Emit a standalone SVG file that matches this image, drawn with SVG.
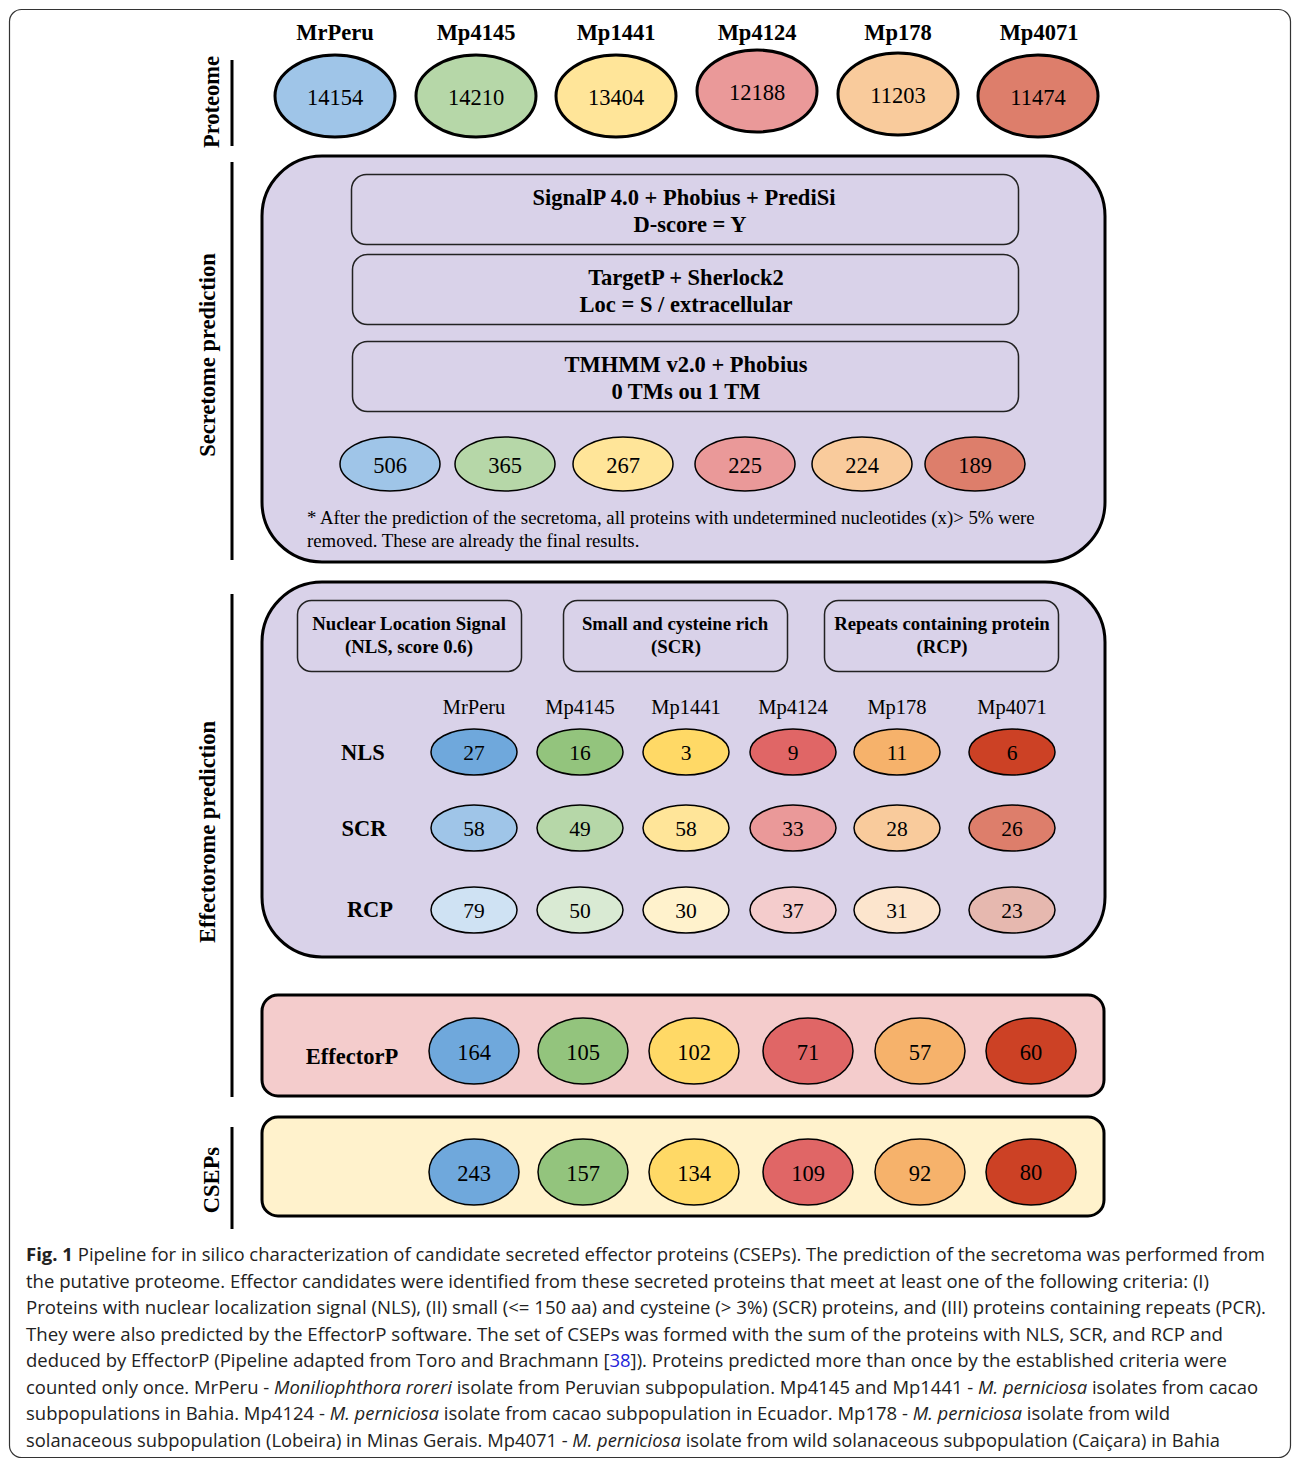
<svg xmlns="http://www.w3.org/2000/svg" width="1292" height="1460" viewBox="0 0 1292 1460">
<defs>
<style>
.serif{font-family:"Liberation Serif","Times New Roman",serif;fill:#000}
.hdr{font-size:22.5px;font-weight:bold;text-anchor:middle}
.num{font-size:22.5px;text-anchor:middle;dominant-baseline:central}
.num2{font-size:21.5px;text-anchor:middle;dominant-baseline:central}
.numc{font-size:22.5px;text-anchor:middle;dominant-baseline:central}
.boxt{font-size:22.5px;font-weight:bold;text-anchor:middle;dominant-baseline:central}
.crit{font-size:18.8px;font-weight:bold;text-anchor:middle;dominant-baseline:central}
.col{font-size:20.5px;text-anchor:middle;dominant-baseline:central}
.rowl{font-size:22.5px;font-weight:bold;text-anchor:middle;dominant-baseline:central}
.side{font-size:22.5px;font-weight:bold;text-anchor:middle;dominant-baseline:central}
.big{stroke:#000;stroke-width:3}
.thin{stroke:#000;stroke-width:1.5}
.inner{fill:none;stroke:#222;stroke-width:1.5}
.purple{fill:#d9d2e9}
.cap{font-family:"Open Sans","Noto Sans","Liberation Sans",sans-serif;font-size:18.5px;fill:#222}
.bar{stroke:#000;stroke-width:3}
</style>
</defs>
<rect x="9.5" y="9.5" width="1281" height="1448" rx="12" fill="#fff" stroke="#333" stroke-width="1.2"/>

<g id="side-labels">
<line class="bar" x1="232" y1="60" x2="232" y2="146"/>
<text class="serif side" transform="translate(211,102) rotate(-90)">Proteome</text>
<line class="bar" x1="232" y1="162" x2="232" y2="560"/>
<text class="serif side" transform="translate(207,355) rotate(-90)">Secretome prediction</text>
<line class="bar" x1="232" y1="594" x2="232" y2="1097"/>
<text class="serif side" transform="translate(207,832) rotate(-90)">Effectorome prediction</text>
<line class="bar" x1="232" y1="1127" x2="232" y2="1229"/>
<text class="serif side" transform="translate(211,1180) rotate(-90)">CSEPs</text>
</g>

<g id="proteome">
<text class="serif hdr" x="335" y="40">MrPeru</text>
<text class="serif hdr" x="476" y="40">Mp4145</text>
<text class="serif hdr" x="616" y="40">Mp1441</text>
<text class="serif hdr" x="757" y="40">Mp4124</text>
<text class="serif hdr" x="898" y="40">Mp178</text>
<text class="serif hdr" x="1039" y="40">Mp4071</text>
<g id="p-MrPeru"><ellipse class="big" cx="335" cy="96" rx="60" ry="41" fill="#9fc5e8"/><text class="serif num" x="335" y="97">14154</text></g>
<g id="p-Mp4145"><ellipse class="big" cx="476" cy="96" rx="60" ry="41" fill="#b6d7a8"/><text class="serif num" x="476" y="97">14210</text></g>
<g id="p-Mp1441"><ellipse class="big" cx="616" cy="96" rx="60" ry="41" fill="#ffe599"/><text class="serif num" x="616" y="97">13404</text></g>
<g id="p-Mp4124"><ellipse class="big" cx="757" cy="91" rx="60" ry="41" fill="#ea9999"/><text class="serif num" x="757" y="92">12188</text></g>
<g id="p-Mp178"><ellipse class="big" cx="898" cy="94" rx="60" ry="41" fill="#f9cb9c"/><text class="serif num" x="898" y="95">11203</text></g>
<g id="p-Mp4071"><ellipse class="big" cx="1038" cy="96" rx="60" ry="41" fill="#dd7e6b"/><text class="serif num" x="1038" y="97">11474</text></g>
</g>

<g id="secretome">
<rect class="big purple" x="262" y="156" width="843" height="406" rx="60"/>
<g id="s-signalp"><rect class="inner" x="351.5" y="174.5" width="667" height="70" rx="15"/>
<text class="serif boxt" x="684" y="197">SignalP 4.0 + Phobius + PrediSi</text>
<text class="serif boxt" x="690" y="224">D-score = Y</text></g>
<g id="s-targetp"><rect class="inner" x="352.5" y="254.5" width="666" height="70" rx="15"/>
<text class="serif boxt" x="686" y="277">TargetP + Sherlock2</text>
<text class="serif boxt" x="686" y="304">Loc = S / extracellular</text></g>
<g id="s-tmhmm"><rect class="inner" x="352.5" y="341.5" width="666" height="70" rx="15"/>
<text class="serif boxt" x="686" y="364">TMHMM v2.0 + Phobius</text>
<text class="serif boxt" x="686" y="391">0 TMs ou 1 TM</text></g>
<g id="s-MrPeru"><ellipse class="thin" cx="390" cy="464" rx="50" ry="27" fill="#9fc5e8"/><text class="serif num" x="390" y="465">506</text></g>
<g id="s-Mp4145"><ellipse class="thin" cx="505" cy="464" rx="50" ry="27" fill="#b6d7a8"/><text class="serif num" x="505" y="465">365</text></g>
<g id="s-Mp1441"><ellipse class="thin" cx="623" cy="464" rx="50" ry="27" fill="#ffe599"/><text class="serif num" x="623" y="465">267</text></g>
<g id="s-Mp4124"><ellipse class="thin" cx="745" cy="464" rx="50" ry="27" fill="#ea9999"/><text class="serif num" x="745" y="465">225</text></g>
<g id="s-Mp178"><ellipse class="thin" cx="862" cy="464" rx="50" ry="27" fill="#f9cb9c"/><text class="serif num" x="862" y="465">224</text></g>
<g id="s-Mp4071"><ellipse class="thin" cx="975" cy="464" rx="50" ry="27" fill="#dd7e6b"/><text class="serif num" x="975" y="465">189</text></g>
<text class="serif" x="307" y="524" font-size="18.8">* After the prediction of the secretoma, all proteins with undetermined nucleotides (x)&gt; 5% were</text>
<text class="serif" x="307" y="547" font-size="18.8">removed. These are already the final results.</text>
</g>

<g id="effectorome">
<rect class="big purple" x="262" y="582" width="843" height="375" rx="60"/>
<g id="e-nls"><rect class="inner" x="297.5" y="600.5" width="224" height="71" rx="14"/>
<text class="serif crit" x="409" y="623">Nuclear Location Signal</text>
<text class="serif crit" x="409" y="646">(NLS, score 0.6)</text></g>
<g id="e-scr"><rect class="inner" x="563.5" y="600.5" width="224" height="71" rx="14"/>
<text class="serif crit" x="675" y="623">Small and cysteine rich</text>
<text class="serif crit" x="676" y="646">(SCR)</text></g>
<g id="e-rcp"><rect class="inner" x="824.5" y="600.5" width="234" height="71" rx="14"/>
<text class="serif crit" x="942" y="623">Repeats containing protein</text>
<text class="serif crit" x="942" y="646">(RCP)</text></g>
<text class="serif col" x="474" y="707">MrPeru</text>
<text class="serif col" x="580" y="707">Mp4145</text>
<text class="serif col" x="686" y="707">Mp1441</text>
<text class="serif col" x="793" y="707">Mp4124</text>
<text class="serif col" x="897" y="707">Mp178</text>
<text class="serif col" x="1012" y="707">Mp4071</text>
<text class="serif rowl" x="363" y="752">NLS</text>
<text class="serif rowl" x="364" y="828">SCR</text>
<text class="serif rowl" x="370" y="909">RCP</text>
<g id="nls-row">
<ellipse class="thin" cx="474" cy="752" rx="43" ry="23" fill="#6fa8dc"/><text class="serif num2" x="474" y="753">27</text>
<ellipse class="thin" cx="580" cy="752" rx="43" ry="23" fill="#93c47d"/><text class="serif num2" x="580" y="753">16</text>
<ellipse class="thin" cx="686" cy="752" rx="43" ry="23" fill="#ffd966"/><text class="serif num2" x="686" y="753">3</text>
<ellipse class="thin" cx="793" cy="752" rx="43" ry="23" fill="#e06666"/><text class="serif num2" x="793" y="753">9</text>
<ellipse class="thin" cx="897" cy="752" rx="43" ry="23" fill="#f6b26b"/><text class="serif num2" x="897" y="753">11</text>
<ellipse class="thin" cx="1012" cy="752" rx="43" ry="23" fill="#cc4125"/><text class="serif num2" x="1012" y="753">6</text>
</g>
<g id="scr-row">
<ellipse class="thin" cx="474" cy="828" rx="43" ry="23" fill="#9fc5e8"/><text class="serif num2" x="474" y="829">58</text>
<ellipse class="thin" cx="580" cy="828" rx="43" ry="23" fill="#b6d7a8"/><text class="serif num2" x="580" y="829">49</text>
<ellipse class="thin" cx="686" cy="828" rx="43" ry="23" fill="#ffe599"/><text class="serif num2" x="686" y="829">58</text>
<ellipse class="thin" cx="793" cy="828" rx="43" ry="23" fill="#ea9999"/><text class="serif num2" x="793" y="829">33</text>
<ellipse class="thin" cx="897" cy="828" rx="43" ry="23" fill="#f9cb9c"/><text class="serif num2" x="897" y="829">28</text>
<ellipse class="thin" cx="1012" cy="828" rx="43" ry="23" fill="#dd7e6b"/><text class="serif num2" x="1012" y="829">26</text>
</g>
<g id="rcp-row">
<ellipse class="thin" cx="474" cy="910" rx="43" ry="23" fill="#cfe2f3"/><text class="serif num2" x="474" y="911">79</text>
<ellipse class="thin" cx="580" cy="910" rx="43" ry="23" fill="#d9ead3"/><text class="serif num2" x="580" y="911">50</text>
<ellipse class="thin" cx="686" cy="910" rx="43" ry="23" fill="#fff2cc"/><text class="serif num2" x="686" y="911">30</text>
<ellipse class="thin" cx="793" cy="910" rx="43" ry="23" fill="#f4cccc"/><text class="serif num2" x="793" y="911">37</text>
<ellipse class="thin" cx="897" cy="910" rx="43" ry="23" fill="#fce5cd"/><text class="serif num2" x="897" y="911">31</text>
<ellipse class="thin" cx="1012" cy="910" rx="43" ry="23" fill="#e6b8af"/><text class="serif num2" x="1012" y="911">23</text>
</g>
</g>

<g id="effectorp">
<rect class="big" x="262" y="995" width="842" height="101" rx="16" fill="#f4cccc"/>
<text class="serif rowl" x="352" y="1056">EffectorP</text>
<ellipse class="thin" cx="474" cy="1051" rx="45" ry="33" fill="#6fa8dc"/><text class="serif numc" x="474" y="1052">164</text>
<ellipse class="thin" cx="583" cy="1051" rx="45" ry="33" fill="#93c47d"/><text class="serif numc" x="583" y="1052">105</text>
<ellipse class="thin" cx="694" cy="1051" rx="45" ry="33" fill="#ffd966"/><text class="serif numc" x="694" y="1052">102</text>
<ellipse class="thin" cx="808" cy="1051" rx="45" ry="33" fill="#e06666"/><text class="serif numc" x="808" y="1052">71</text>
<ellipse class="thin" cx="920" cy="1051" rx="45" ry="33" fill="#f6b26b"/><text class="serif numc" x="920" y="1052">57</text>
<ellipse class="thin" cx="1031" cy="1051" rx="45" ry="33" fill="#cc4125"/><text class="serif numc" x="1031" y="1052">60</text>
</g>

<g id="cseps">
<rect class="big" x="262" y="1117" width="842" height="99" rx="16" fill="#fff2cc"/>
<ellipse class="thin" cx="474" cy="1172" rx="45" ry="33" fill="#6fa8dc"/><text class="serif numc" x="474" y="1173">243</text>
<ellipse class="thin" cx="583" cy="1172" rx="45" ry="33" fill="#93c47d"/><text class="serif numc" x="583" y="1173">157</text>
<ellipse class="thin" cx="694" cy="1172" rx="45" ry="33" fill="#ffd966"/><text class="serif numc" x="694" y="1173">134</text>
<ellipse class="thin" cx="808" cy="1172" rx="45" ry="33" fill="#e06666"/><text class="serif numc" x="808" y="1173">109</text>
<ellipse class="thin" cx="920" cy="1172" rx="45" ry="33" fill="#f6b26b"/><text class="serif numc" x="920" y="1173">92</text>
<ellipse class="thin" cx="1031" cy="1172" rx="45" ry="33" fill="#cc4125"/><text class="serif numc" x="1031" y="1172">80</text>
</g>

<g id="caption">
<text class="cap" x="26" y="1261" textLength="1239" lengthAdjust="spacingAndGlyphs"><tspan font-weight="bold">Fig. 1</tspan> Pipeline for in silico characterization of candidate secreted effector proteins (CSEPs). The prediction of the secretoma was performed from</text>
<text class="cap" x="26" y="1288" textLength="1183" lengthAdjust="spacingAndGlyphs">the putative proteome. Effector candidates were identified from these secreted proteins that meet at least one of the following criteria: (I)</text>
<text class="cap" x="26" y="1314" textLength="1240" lengthAdjust="spacingAndGlyphs">Proteins with nuclear localization signal (NLS), (II) small (&lt;= 150 aa) and cysteine (&gt; 3%) (SCR) proteins, and (III) proteins containing repeats (PCR).</text>
<text class="cap" x="26" y="1341" textLength="1197" lengthAdjust="spacingAndGlyphs">They were also predicted by the EffectorP software. The set of CSEPs was formed with the sum of the proteins with NLS, SCR, and RCP and</text>
<text class="cap" x="26" y="1367" textLength="1201" lengthAdjust="spacingAndGlyphs">deduced by EffectorP (Pipeline adapted from Toro and Brachmann [<tspan fill="#2424d8">38</tspan>]). Proteins predicted more than once by the established criteria were</text>
<text class="cap" x="26" y="1394" textLength="1232" lengthAdjust="spacingAndGlyphs">counted only once. MrPeru - <tspan font-style="italic">Moniliophthora roreri</tspan> isolate from Peruvian subpopulation. Mp4145 and Mp1441 - <tspan font-style="italic">M. perniciosa</tspan> isolates from cacao</text>
<text class="cap" x="26" y="1420" textLength="1144" lengthAdjust="spacingAndGlyphs">subpopulations in Bahia. Mp4124 - <tspan font-style="italic">M. perniciosa</tspan> isolate from cacao subpopulation in Ecuador. Mp178 - <tspan font-style="italic">M. perniciosa</tspan> isolate from wild</text>
<text class="cap" x="26" y="1447" textLength="1194" lengthAdjust="spacingAndGlyphs">solanaceous subpopulation (Lobeira) in Minas Gerais. Mp4071 - <tspan font-style="italic">M. perniciosa</tspan> isolate from wild solanaceous subpopulation (Caiçara) in Bahia</text>
</g>
</svg>
